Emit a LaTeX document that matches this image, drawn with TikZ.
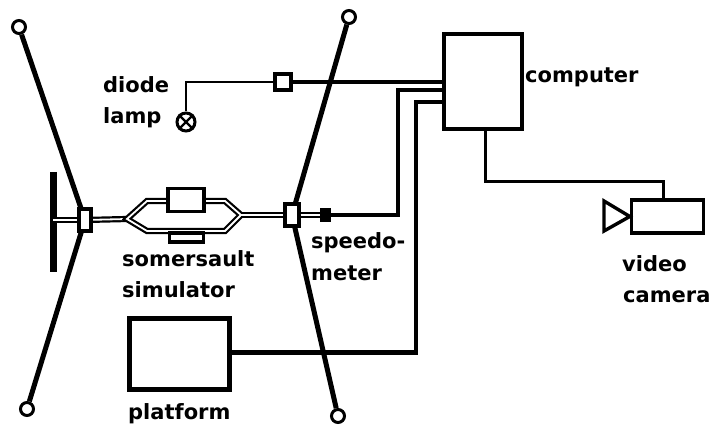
\documentclass[tikz,border=0pt]{standalone}
\usepackage{fontspec}
\setmainfont{DejaVu Sans}
\usetikzlibrary{positioning}
\tikzset{
	label/.style={anchor=base west,inner sep=0pt,font=\fontsize{21}{21}\selectfont\bfseries},
	ring/.style={circle,draw,fill=white,line width=3pt,minimum size=13pt,inner sep=0pt},
	box/.style={rectangle,draw,fill=white,line width=3.4pt,inner sep=0pt},
	rod/.style={line width=5pt},
	wire/.style={line width=4.8pt},
	thinwire/.style={line width=2.6pt},
	rail/.style={double,line width=2.2pt,double distance=1.8pt}
}
\begin{document}
\begin{tikzpicture}[x=1pt,y=-1pt]
		\useasboundingbox (0,0) rectangle (713,425);

		%rings
		\node[ring] (r1) at (19,27) {};
		\node[ring] (r2) at (349,17) {};
		\node[ring] (r3) at (27,409) {};
		\node[ring] (r4) at (338,416) {};

		%plate ends
		\coordinate (p1) at (53,172);
		\coordinate (p2) at (53,272);
		\coordinate (p3) at (53,220);

		%simulator bends
		\coordinate (s1) at (127,219);
		\coordinate (s2) at (147,201);
		\coordinate (s3) at (225,201);
		\coordinate (s4) at (241,215);
		\coordinate (s5) at (147,231);
		\coordinate (s6) at (225,231);

		%clamps
		\coordinate (cl) at (85,220);
		\coordinate (cr) at (292,215);

		%rods
		\draw[rod] (r1) -- (cl);
		\draw[rod] (r3) -- (cl);
		\draw[rod] (r2) -- (cr);
		\draw[rod] (r4) -- (cr);
		\draw[line width=7pt] (p1) -- (p2);

		%rails
		\draw[rail] (p3) -- (cl);
		\draw[rail] (cl) -- (s1);
		\draw[rail] (s1) -- (s2) -- (s3) -- (s4) -- (s6) -- (s5) -- cycle;
		\draw[rail] (s4) -- (cr);

		%boxes on the rails
		\node[box,minimum width=12pt,minimum height=22pt] (n1) at (cl) {};
		\node[box,minimum width=14pt,minimum height=22pt] (n2) at (cr) {};
		\node[box,minimum width=36pt,minimum height=23pt] (n3) at (186,200) {};
		\node[box,minimum width=34pt,minimum height=9pt] (n4) at (186.5,237.5) {};

		%speedometer
		\draw[rail] (n2) -- (325,215);
		\node[rectangle,fill=black,minimum width=11pt,minimum height=14pt,inner sep=0pt] (n5) at (325,215) {};

		%computer, platform, camera
		\node[box,minimum width=78pt,minimum height=95pt] (n6) at (483,81.5) {};
		\node[box,line width=4.6pt,minimum width=100pt,minimum height=71pt] (n7) at (179.5,354) {};
		\node[box,minimum width=72pt,minimum height=33pt] (n8) at (667.5,216.5) {};
		\node[box,minimum width=16pt,minimum height=16pt] (n9) at (283,82) {};

		%lamp
		\node[circle,draw,fill=white,line width=3pt,minimum size=18pt,inner sep=0pt] (n10) at (186,122) {};
		\draw[line width=2.2pt] (n10.north west) -- (n10.south east);
		\draw[line width=2.2pt] (n10.north east) -- (n10.south west);

		%camera front
		\coordinate (t1) at (604,201);
		\coordinate (t2) at (604,231);
		\draw[line width=3.4pt] (t1) -- (n8.west) -- (t2) -- cycle;

		%wires
		\draw[thinwire] (n9) -- (n10 |- n9) -- (n10);
		\draw[wire] (n9) -- (n6.west |- n9);
		\draw[wire] (n5) -- (398,215) -- (398,90) -- (n6.west |- 0,90);
		\draw[wire] (n7.east |- 0,352.5) -- (416,352.5) -- (416,102) -- (n6.west |- 0,102);
		\draw[line width=3pt] (n6.south -| 485,0) -- (485,182) -- (663,182) -- (n8.north -| 663,0);

		%labels
		\node[label] (l1) at (103,93) {diode};
		\node[label] (l2) at (103,124) {lamp};
		\node[label] (l3) at (525,83) {computer};
		\node[label] (l4) at (311,249) {speedo-};
		\node[label] (l5) at (311,280) {meter};
		\node[label] (l6) at (122,266) {somersault};
		\node[label] (l7) at (122,297) {simulator};
		\node[label] (l8) at (622,271) {video};
		\node[label] (l9) at (623,302) {camera};
		\node[label] (l10) at (128,419) {platform};
	\end{tikzpicture}
\end{document}
